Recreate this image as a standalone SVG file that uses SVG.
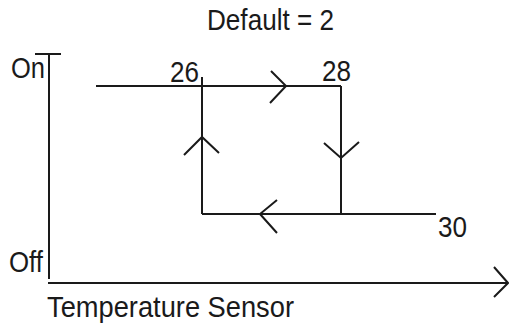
<svg xmlns="http://www.w3.org/2000/svg" width="509" height="326" viewBox="0 0 509 326">
<style>
line,polyline{stroke:#1a1a1a;stroke-width:2;fill:none}
text{font-family:"Liberation Sans",Arial,sans-serif;font-size:29px;fill:#1a1a1a}
</style>
<rect width="509" height="326" fill="#fff"/>
<g id="title"><text x="207" y="30" textLength="127" lengthAdjust="spacingAndGlyphs">Default = 2</text></g>
<g id="axes">
<line x1="49" y1="54" x2="49" y2="279"/>
<line x1="35" y1="54" x2="61" y2="54"/>
<line x1="48" y1="283" x2="508" y2="283"/>
<polyline points="494,267 508,283 494,297"/>
<text x="11" y="78" textLength="34" lengthAdjust="spacingAndGlyphs">On</text>
<text x="9" y="272" textLength="34" lengthAdjust="spacingAndGlyphs">Off</text>
<text x="47" y="317" textLength="247" lengthAdjust="spacingAndGlyphs">Temperature Sensor</text>
</g>
<g id="connectors">
<line x1="96" y1="86" x2="341" y2="86"/>
<line x1="341" y1="86" x2="341" y2="214"/>
<line x1="202" y1="214" x2="436" y2="214"/>
<line x1="202" y1="77" x2="202" y2="214"/>
<polyline points="271,71 286,86 270,103"/>
<polyline points="324,143 341,158 359,142"/>
<polyline points="184,155 202,137 219,153"/>
<polyline points="277,200 260,214 277,233"/>
</g>
<g id="labels">
<text x="170" y="82" textLength="29" lengthAdjust="spacingAndGlyphs">26</text>
<text x="322" y="81" textLength="29" lengthAdjust="spacingAndGlyphs">28</text>
<text x="438" y="237" textLength="29" lengthAdjust="spacingAndGlyphs">30</text>
</g>
</svg>
